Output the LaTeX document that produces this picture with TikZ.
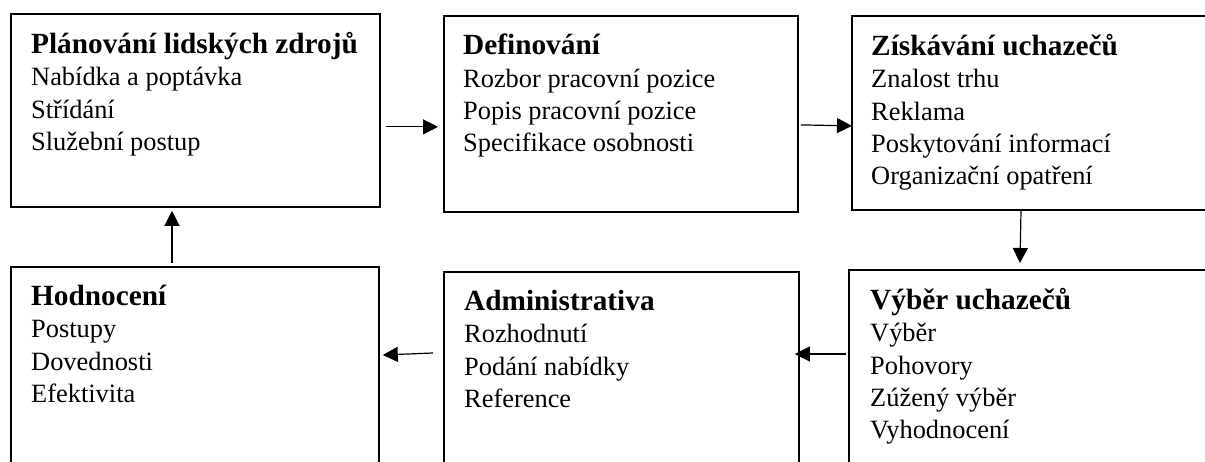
\documentclass[tikz,border=0pt]{standalone}
\usepackage{fontspec}
\setmainfont{Liberation Serif}
\usetikzlibrary{positioning,arrows.meta}
\newcommand{\stagetitle}[1]{{\fontsize{29.3}{32}\selectfont\bfseries #1}}

\begin{document}
\begin{tikzpicture}[x=1pt,y=-1pt,
  stage/.style={draw, line width=1.8pt, anchor=north west, inner sep=0pt},
  items/.style={anchor=north west, align=left, inner sep=0pt, font=\fontsize{26.4}{32.3}\selectfont},
  flow/.style={-{Triangle[length=15pt,width=15pt]}, line width=1.2pt}]
  \useasboundingbox (0,0) rectangle (1205,462);

  % top row
  \node[stage, minimum width=369pt, minimum height=193pt] (plan) at (10,13) {};
  \node[stage, minimum width=354pt, minimum height=196pt] (defin) at (443,15) {};
  \node[stage, minimum width=380pt, minimum height=194pt] (recruit) at (851,15) {};
  % bottom row (runs off the page)
  \node[stage, minimum width=368pt, minimum height=220pt] (assess) at (10,266) {};
  \node[stage, minimum width=355pt, minimum height=220pt] (admin) at (443,271) {};
  \node[stage, minimum width=380pt, minimum height=220pt] (select) at (848,269) {};

  \node[items, below right=19pt and 21pt of plan.north west] (plantext)
    {\stagetitle{Plánování lidských zdrojů}\\ Nabídka a poptávka\\ Střídání\\ Služební postup};
  \node[items, below right=19pt and 20pt of defin.north west] (defintext)
    {\stagetitle{Definování}\\ Rozbor pracovní pozice\\ Popis pracovní pozice\\ Specifikace osobnosti};
  \node[items, below right=19pt and 20pt of recruit.north west] (recruittext)
    {\stagetitle{Získávání uchazečů}\\ Znalost trhu\\ Reklama\\ Poskytování informací\\ Organizační opatření};
  \node[items, below right=19pt and 21pt of assess.north west] (assesstext)
    {\stagetitle{Hodnocení}\\ Postupy\\ Dovednosti\\ Efektivita};
  \node[items, below right=19pt and 21pt of admin.north west] (admintext)
    {\stagetitle{Administrativa}\\ Rozhodnutí\\ Podání nabídky\\ Reference};
  \node[items, below right=19pt and 22pt of select.north west] (selecttext)
    {\stagetitle{Výběr uchazečů}\\ Výběr\\ Pohovory\\ Zúžený výběr\\ Vyhodnocení};

  % flow of the process
  \draw[flow] ([shift={(5,16.5)}]plan.east) -- ([shift={(-5,13)}]defin.west);
  \draw[flow] ([shift={(2,11)}]defin.east) -- ([shift={(1,13)}]recruit.west);
  \draw[flow] ([shift={(170,0)}]recruit.south west) -- ([shift={(172,-6)}]select.north west);
  \draw[flow] ([shift={(-2,85)}]select.north west) -- ([shift={(-5,83)}]admin.north east);
  \draw[flow] ([shift={(-10,82)}]admin.north west) -- ([shift={(3,89)}]assess.north east);
  \draw[flow] ([shift={(162,-3)}]assess.north west) -- ([shift={(162,3)}]plan.south west);
\end{tikzpicture}
\end{document}
